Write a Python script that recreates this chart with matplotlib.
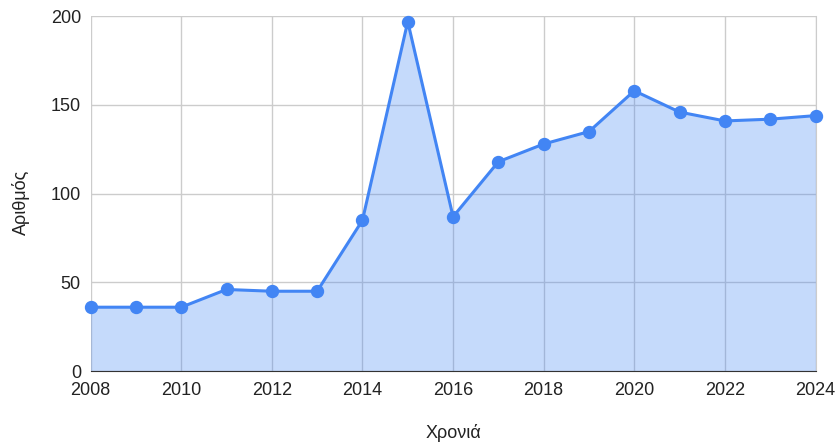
import matplotlib
matplotlib.use('Agg')
import matplotlib.pyplot as plt

plt.rcParams['font.family'] = ['Liberation Sans', 'DejaVu Sans']

years = [2008, 2009, 2010, 2011, 2012, 2013, 2014, 2015, 2016,
         2017, 2018, 2019, 2020, 2021, 2022, 2023, 2024]
counts = [36, 36, 36, 46, 45, 45, 85, 197, 87,
          118, 128, 135, 158, 146, 141, 142, 144]
x_ticks = [2008, 2010, 2012, 2014, 2016, 2018, 2020, 2022, 2024]
y_ticks = [0, 50, 100, 150, 200]

BLUE = '#4285F4'

fig = plt.figure(figsize=(8.39, 4.46), dpi=100)
ax = fig.add_axes([0.108, 0.168, 0.864, 0.7955])

ax.fill_between(years, counts, 0, color=BLUE, alpha=0.3, linewidth=0, zorder=2)
ax.plot(years, counts, color=BLUE, linewidth=2.2, marker='o', markersize=8.6,
        zorder=3, clip_on=False)

ax.set_xlim(2008, 2024)
ax.set_ylim(0, 200)
ax.set_xticks(x_ticks)
ax.set_yticks(y_ticks)
ax.grid(True, color='#cccccc', linewidth=1, zorder=1)
ax.set_axisbelow(True)

for s in ['top', 'left']:
    ax.spines[s].set_visible(False)
ax.spines['right'].set_color('#cccccc')
ax.spines['bottom'].set_color('#333333')
ax.spines['bottom'].set_zorder(4)
ax.tick_params(length=0, labelsize=13, colors='#222222')
ax.tick_params(axis='x', pad=8)
ax.tick_params(axis='y', pad=7)

ax.set_xlabel('Χρονιά', fontsize=13, color='#222222', labelpad=18)
ax.set_ylabel('Αριθμός', fontsize=13, color='#222222')
ax.yaxis.set_label_coords(-0.083, 0.475)

fig.savefig('out.png', dpi=100)
